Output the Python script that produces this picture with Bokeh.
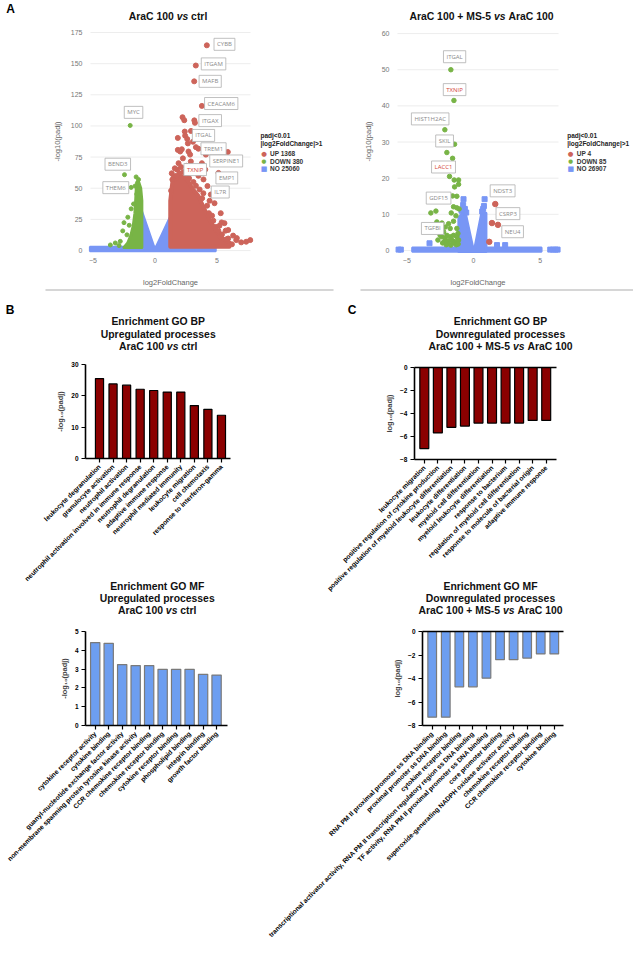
import math
from bokeh.plotting import figure
from bokeh.models import Label, Range1d, FixedTicker
from bokeh.layouts import column, row
from bokeh.embed import file_html
from bokeh.resources import INLINE

# ---------------------------------------------------------------- data
# Volcano 1: AraC 100 vs ctrl  (x = log2FoldChange, y = -log10(padj))
VL_UP_X = [4.18, 3.29, 3.16, 3.78, 3.17, 3.22, 2.22, 2.36, 2.43, 1.84, 2.6, 2.65, 3.06, 3.5, 5.87,
           1.84, 2.03, 2.16, 2.7, 2.83, 2.25, 4.1, 2.89, 1.9, 3.78, 1.79, 2.7, 3.24, 4.05, 5.12,
           1.52, 3.91, 4.23, 3.5, 4.5, 4.8, 5.3, 5.37, 5.7, 5.6, 5.9, 6.3, 6.6, 5.26, 5.9, 6.55,
           6.95, 7.35, 7.68, 6.2, 5.2, 4.6, 2.0, 1.4, 1.3, 2.4, 2.9, 3.3, 2.55, 4.4, 3.9,
           1.35, 1.6, 1.75, 2.1, 2.3, 2.5, 2.75, 3.1, 3.3, 3.6, 3.8, 4.2, 4.35, 4.7, 4.9, 5.1, 5.4, 5.75]
VL_UP_Y = [164.7, 148.5, 135.8, 116.1, 104.5, 102.5, 107.0, 104.6, 92.2, 90.4, 89.5, 86.0, 87.3, 81.7, 79.1,
           80.8, 79.5, 81.3, 79.5, 77.0, 74.0, 77.0, 71.5, 70.1, 70.1, 64.9, 64.9, 63.6, 65.0, 62.3,
           59.6, 57.1, 51.8, 60.0, 45.0, 38.0, 30.0, 22.6, 16.0, 22.0, 16.5, 12.0, 10.0, 11.0, 9.7, 8.4,
           6.6, 7.1, 8.4, 5.0, 20.0, 28.0, 62.0, 57.0, 48.0, 95.5, 96.0, 83.0, 68.0, 40.0, 46.0,
           62.0, 66.0, 60.0, 67.0, 63.0, 61.0, 58.0, 55.0, 52.0, 49.0, 42.0, 36.0, 30.0, 24.0, 19.0, 16.0, 13.0, 9.0]
VL_UP_AREA_X = [1.23, 1.23, 1.4, 2.0, 2.6, 3.0, 3.5, 4.0, 4.5, 5.0, 5.5, 6.0, 6.0]
VL_UP_AREA_Y = [3.0, 40.0, 55.0, 60.0, 57.0, 50.0, 44.0, 33.0, 23.0, 15.0, 9.5, 6.5, 3.0]
VL_DN_X = [-2.0, -2.46, -1.92, -1.52, -1.33, -1.41, -1.6, -1.28, -1.47, -1.73, -1.92, -2.5, -2.6,
           -2.26, -2.8, -3.2, -2.08, -2.19, -3.6, -2.9]
VL_DN_Y = [100.4, 60.9, 50.7, 59.1, 57.0, 54.4, 51.8, 49.2, 45.3, 37.4, 33.5, 22.4, 15.8,
           12.6, 7.4, 6.1, 20.3, 26.8, 4.5, 4.0]
VL_DN_AREA_X = [-2.5, -2.2, -1.95, -1.75, -1.62, -1.55, -1.5, -1.35, -1.15, -1.06, -1.06]
VL_DN_AREA_Y = [2.5, 6.0, 12.0, 20.0, 30.0, 42.0, 52.0, 56.0, 50.0, 40.0, 2.5]
VL_NO_AREA_X = [-1.1, -1.1, -0.05, 0.05, 1.25, 1.25]
VL_NO_AREA_Y = [0.0, 32.0, 1.5, 1.5, 27.0, 0.0]
VL_NO_BAND_X = [-5.25, -5.25, 4.9, 4.9]
VL_NO_BAND_Y = [-0.6, 3.0, 3.0, -0.6]
VL_COUNTS = [1368, 380, 25060]
VL_GENES = ["CYBB", "ITGAM", "MAFB", "CEACAM6", "ITGAX", "ITGAL", "TREM1", "SERPINE1", "TXNIP",
            "EMP1", "IL7R", "MYC", "BEND3", "THEM6"]
VL_GENE_X = [5.6, 4.72, 4.45, 5.34, 4.45, 3.91, 4.72, 5.74, 3.24, 5.79, 5.26, -1.73, -3.0, -3.16]
VL_GENE_Y = [165.5, 149.8, 135.8, 118.0, 104.3, 92.4, 81.7, 71.9, 65.0, 58.3, 47.0, 110.9, 69.3, 50.5]

# Volcano 2: AraC 100 + MS-5 vs AraC 100
VR_UP_X = [1.63, 1.38, 1.83, 1.18]
VR_UP_Y = [12.85, 7.6, 7.1, 2.4]
VR_DN_X = [-1.70, -1.47, -2.15, -1.42, -2.0, -1.57, -1.8, -1.45, -1.12, -1.42, -1.12, -1.57, -1.25,
           -3.2, -2.82, -1.5, -1.25, -1.08, -1.67, -2.75, -2.37, -1.87, -1.5, -1.32, -2.12, -2.62,
           -1.75, -1.25, -2.67, -2.37, -2.12, -2.0, -1.75, -1.5, -1.25, -2.17, -1.87, -1.62, -1.37,
           -1.12, -1.17, -2.25, -2.5, -1.5, -1.92, -2.32, -1.3, -1.7, -2.05, -1.15]
VR_DN_Y = [50.0, 41.5, 33.4, 29.4, 27.1, 25.5, 20.5, 19.5, 19.5, 17.6, 18.3, 15.1, 15.0,
           10.4, 10.9, 12.1, 11.8, 11.5, 10.4, 7.9, 7.6, 7.4, 8.1, 9.6, 6.5, 5.6,
           6.1, 6.1, 2.9, 3.8, 3.3, 4.2, 3.8, 4.2, 3.8, 2.5, 2.6, 2.9, 2.5,
           2.9, 4.7, 5.2, 4.2, 2.1, 1.8, 2.1, 1.6, 1.5, 1.6, 1.8]
VR_NO_X = [-5.62, -5.45, 5.75, 5.95, 6.15, 6.3, -3.3, 1.76, 2.37, -0.75, 0.83, -0.78, -0.65,
           0.72, 0.78, -0.9, 0.65, -0.55]
VR_NO_Y = [0.25, 0.25, 0.25, 0.25, 0.25, 0.25, 2.0, 1.5, 1.5, 14.2, 14.2, 12.6, 11.5,
           11.5, 12.3, 11.0, 10.8, 10.5]
VR_NO_AREA_X = [-1.1, -1.1, -0.85, -0.6, -0.05, 0.1, 0.6, 0.93, 0.93]
VR_NO_AREA_Y = [-0.3, 9.0, 10.3, 10.0, 0.6, 0.6, 10.0, 10.3, -0.3]
VR_NO_BAND_X = [-4.6, -4.6, 5.1, 5.1]
VR_NO_BAND_Y = [-0.35, 0.85, 0.85, -0.35]
VR_COUNTS = [4, 85, 26907]
VR_GENES = ["ITGAL", "TXNIP", "HIST1H2AC", "SKIL", "LACC1", "GDF15", "TGFBI", "NDST3", "CSRP3", "NEU4"]
VR_GENE_X = [-1.42, -1.42, -3.25, -2.17, -2.25, -2.62, -3.07, 2.18, 2.58, 2.93]
VR_GENE_Y = [53.6, 44.5, 36.4, 30.3, 23.1, 14.5, 6.1, 16.5, 10.2, 5.2]
HIGHLIGHT_GENES = ["TXNIP", "LACC1"]
CLASSES = ["UP", "DOWN", "NO"]

# Enrichment bars
BP_UP_TERMS = ["leukocyte degranulation", "granulocyte activation", "neutrophil activation",
               "neutrophil activation involved in immune response", "neutrophil degranulation",
               "adaptive immune response", "neutrophil mediated immunity", "leukocyte migration",
               "cell chemotaxis", "response to interferon-gamma"]
BP_UP_VALUES = [25.5, 23.8, 23.4, 22.1, 21.7, 21.2, 21.2, 16.9, 15.7, 13.8]
MF_UP_TERMS = ["cytokine receptor activity", "cytokine binding", "guanyl-nucleotide exchange factor activity",
               "non-membrane spanning protein tyrosine kinase activity", "CCR chemokine receptor binding",
               "chemokine receptor binding", "cytokine receptor binding", "phospholipid binding",
               "integrin binding", "growth factor binding"]
MF_UP_VALUES = [4.41, 4.37, 3.24, 3.19, 3.19, 2.99, 2.99, 2.99, 2.72, 2.68]
BP_DN_TERMS = ["leukocyte migration", "positive regulation of cytokine production",
               "positive regulation of myeloid leukocyte differentiation", "leukocyte differentiation",
               "myeloid cell differentiation", "myeloid leukocyte differentiation", "response to bacterium",
               "regulation of myeloid cell differentiation", "response to molecule of bacterial origin",
               "adaptive immune response"]
BP_DN_VALUES = [-7.05, -5.69, -5.2, -5.09, -4.83, -4.83, -4.83, -4.83, -4.6, -4.6]
MF_DN_TERMS = ["RNA PM II proximal promoter ss DNA binding", "proximal promoter ss DNA binding",
               "cytokine receptor binding",
               "transcriptional activator activity, RNA PM II transcription regulatory region ss DNA binding",
               "TF activity, RNA PM II proximal promoter ss DNA binding", "core promoter binding",
               "superoxide-generating NADPH oxidase activator activity", "chemokine receptor binding",
               "CCR chemokine receptor binding", "cytokine binding"]
MF_DN_VALUES = [-7.29, -7.29, -4.71, -4.71, -3.97, -2.4, -2.4, -2.26, -1.91, -1.91]

# ---------------------------------------------------------------- style / geometry
SANS = "Liberation Sans"
RED, GREEN, BLUE = "#cd645a", "#78b446", "#7896f5"
DARKRED, LIGHTBLUE = "#8b0000", "#6d9ef0"
TS = 10.4
LEG = 6.5
AB = {' ': 278, 'A': 722, 'r': 389, 'a': 556, 'C': 722, '0': 556, '1': 556, '5': 556, '+': 584,
      'M': 833, 'S': 667, '-': 333, 'v': 556, 's': 556, 'c': 556, 't': 333, 'l': 278}

# canvas size W,H; plot area fx0..fx1 / fy0..fy1 (canvas px); plot-area data ranges xr / yr
G_VL = dict(W=338, H=293, fx0=90, fx1=250, fy0=28, fy1=254, xr=(-5.2, 7.7), yr=(-3.15, 178.2))
G_VR = dict(W=295, H=293, fx0=59, fx1=220, fy0=28, fy1=254, xr=(-5.7, 6.37), yr=(-1.1, 61.4))
G_BU = dict(W=320, H=330, fx0=85, fx1=230, fy0=71, fy1=165, xr=(-0.033, 10.668), yr=(0, 30))
G_BD = dict(W=313, H=330, fx0=94, fx1=236, fy0=74, fy1=166, xr=(0.276, 10.76), yr=(-8, 0))
G_MU = dict(W=248, H=320, fx0=85, fx1=227, fy0=8, fy1=102, xr=(0.28, 10.81), yr=(0, 5))
G_MD = dict(W=385, H=320, fx0=174, fx1=315, fy0=8, fy1=102, xr=(0.285, 10.68), yr=(-8, 0))


def at(G, px, py):
    x0, x1 = G['xr']
    y0, y1 = G['yr']
    x = x0 + (px - G['fx0']) / (G['fx1'] - G['fx0']) * (x1 - x0)
    y = y1 - (py - G['fy0']) / (G['fy1'] - G['fy0']) * (y1 - y0)
    return x, y


def make_fig(G):
    W, H = G['W'], G['H']
    xs, ye = at(G, 0, 0)
    xe, ys = at(G, W, H)
    p = figure(width=W, height=H, min_border=0, x_range=Range1d(xs, xe), y_range=Range1d(ys, ye),
               toolbar_location=None, output_backend="svg", title=None)
    p.outline_line_color = None
    p.background_fill_color = "white"
    p.border_fill_color = "white"
    p.grid.visible = False
    p.xaxis.fixed_location = G['yr'][0]
    p.yaxis.fixed_location = G['xr'][0]
    p.xaxis.bounds = G['xr']
    p.yaxis.bounds = G['yr']
    return p


def text_px(p, G, px, py, text, size, color="#000000", style="normal", align="left", font=SANS):
    x, y = at(G, px, py)
    p.add_layout(Label(x=x, y=y, text=text, text_font=font, text_font_size=f"{size}px",
                       text_color=color, text_font_style=style, text_align=align,
                       text_baseline="middle"))


def title_lines(p, G, cx, ys, lines, size=TS):
    for py, parts in zip(ys, lines):
        if len(parts) == 1:
            text_px(p, G, cx, py, parts[0][0], size, "#111111", "bold", "center")
            continue
        sp = AB[' '] * size / 1000
        widths = [sum(AB.get(ch, 556) for ch in t) * size / 1000 for t, _ in parts]
        total = sum(widths) + sp * (len(parts) - 1)
        x = cx - total / 2
        for (t, it), w in zip(parts, widths):
            text_px(p, G, x, py, t, size, "#111111", "bold italic" if it else "bold")
            x += w + sp


def volcano(G, up, up_area, dn, dn_area, no, no_area, no_band, yticks, genes, counts,
            title_parts, title_cx, leg_x, up_size, dn_size, sep_px):
    p = make_fig(G)
    # horizontal grid lines across the plot area
    n = len(yticks)
    p.segment(x0=[G['xr'][0]] * n, x1=[G['xr'][1]] * n, y0=yticks, y1=yticks,
              line_color="#ebebeb", line_width=0.9)
    p.xaxis.ticker = FixedTicker(ticks=[-5, 0, 5], minor_ticks=[])
    p.yaxis.ticker = FixedTicker(ticks=yticks, minor_ticks=[])
    for ax in (p.xaxis[0], p.yaxis[0]):
        ax.axis_line_color = None
        ax.major_tick_line_color = None
        ax.minor_tick_line_color = None
        ax.major_tick_out = 0
        ax.major_tick_in = 0
        ax.major_label_text_color = "#777777"
        ax.major_label_text_font = SANS
        ax.major_label_text_font_size = "7px"
        ax.axis_label_text_font = SANS
        ax.axis_label_text_font_size = "7.5px"
        ax.axis_label_text_color = "#666666"
        ax.axis_label_text_font_style = "normal"
    p.xaxis.axis_label = "log2FoldChange"
    p.yaxis.axis_label = "-log10(padj)"
    p.xaxis.major_label_standoff = 3
    p.xaxis.axis_label_standoff = 12
    p.yaxis.major_label_standoff = 8
    p.yaxis.axis_label_standoff = 6

    p.patch(no_band[0], no_band[1], fill_color=BLUE, line_color=BLUE, line_width=2)
    p.patch(no_area[0], no_area[1], fill_color=BLUE, line_color=BLUE, line_width=3, line_join="round")
    if dn_area is not None:
        p.patch(dn_area[0], dn_area[1], fill_color=GREEN, line_color=GREEN, line_width=3, line_join="round")
    if up_area is not None:
        p.patch(up_area[0], up_area[1], fill_color=RED, line_color=RED, line_width=4, line_join="round")
    if no is not None:
        p.scatter(no[0], no[1], marker="square", size=5, color=BLUE)
    p.scatter(dn[0], dn[1], marker="circle", size=dn_size, color=GREEN)
    p.scatter(up[0], up[1], marker="circle", size=up_size, color=RED)

    for g, gx, gy in zip(*genes):
        col = "#d4483b" if g in HIGHLIGHT_GENES else "#8a8a8a"
        p.add_layout(Label(x=gx, y=gy, text=g, text_font="Open Sans", text_font_size="6px",
                           text_color=col, text_align="center", text_baseline="middle",
                           background_fill_color="white", border_line_color="#b0b0b0",
                           border_line_width=0.8, padding=(3, 2)))

    title_lines(p, G, title_cx, [16], [title_parts])

    # legend
    text_px(p, G, leg_x, 135, "padj<0.01", LEG, "#222222", "bold")
    text_px(p, G, leg_x, 142.5, "|log2FoldChange|>1", LEG, "#222222", "bold")
    syms = [("\u25cf", RED, 6.5), ("\u25cf", GREEN, 5.5), ("\u25a0", BLUE, 7)]
    for i, (cls, cnt) in enumerate(zip(CLASSES, counts)):
        yy = 153 + i * 7.6
        s, c, sz = syms[i]
        text_px(p, G, leg_x + 3.5, yy, s, sz, c, "normal", "center", "DejaVu Sans")
        text_px(p, G, leg_x + 9.5, yy, f"{cls} {cnt}", LEG, "#333333", "bold")

    # separator line under the panel
    (sx0, sy), (sx1, _) = at(G, sep_px[0], 289.5), at(G, sep_px[1], 289.5)
    p.segment(x0=[sx0], x1=[sx1], y0=[sy], y1=[sy], line_color="#c8c8c8", line_width=1.3)
    return p


def bar_chart(G, terms, values, yticks, ylabel, fill, line, width, negative):
    p = make_fig(G)
    xs = list(range(1, len(terms) + 1))
    p.vbar(x=xs, top=[0] * len(values) if negative else values,
           bottom=values if negative else [0] * len(values),
           width=width, fill_color=fill, line_color=line, line_width=1.2)
    if negative:  # zero line at the top of the plot area
        p.segment(x0=[G['xr'][0]], x1=[G['xr'][1]], y0=[G['yr'][1]], y1=[G['yr'][1]],
                  line_color="#000000", line_width=1.6)
    xa, ya = p.xaxis[0], p.yaxis[0]
    xa.ticker = FixedTicker(ticks=xs, minor_ticks=[])
    xa.major_label_overrides = {i: t for i, t in zip(xs, terms)}
    xa.major_label_orientation = math.pi / 4
    ya.ticker = FixedTicker(ticks=yticks, minor_ticks=[])
    for ax in (xa, ya):
        ax.axis_line_width = 1.6
        ax.axis_line_color = "#000000"
        ax.major_tick_line_width = 1.2
        ax.major_tick_line_color = "#000000"
        ax.major_tick_out = 4
        ax.major_tick_in = 0
        ax.minor_tick_line_color = None
        ax.major_label_text_font = SANS
        ax.major_label_text_font_style = "bold"
        ax.major_label_text_color = "#000000"
        ax.major_label_standoff = 3
    xa.major_label_text_font_size = "6.7px"
    ya.major_label_text_font_size = "6.5px"
    ya.axis_label = ylabel
    ya.axis_label_text_font = SANS
    ya.axis_label_text_font_size = "7.5px"
    ya.axis_label_text_font_style = "bold"
    ya.axis_label_standoff = 3
    return p


# ---------------------------------------------------------------- volcanoes
vl = volcano(G_VL, (VL_UP_X, VL_UP_Y), (VL_UP_AREA_X, VL_UP_AREA_Y), (VL_DN_X, VL_DN_Y),
             (VL_DN_AREA_X, VL_DN_AREA_Y), None, (VL_NO_AREA_X, VL_NO_AREA_Y),
             (VL_NO_BAND_X, VL_NO_BAND_Y), list(range(0, 176, 25)),
             (VL_GENES, VL_GENE_X, VL_GENE_Y), VL_COUNTS,
             [("AraC 100", False), ("vs", True), ("ctrl", False)], 167.5, 260, 5, 4, (45, 333))
text_px(vl, G_VL, 10, 8, "A", 12, "#000000", "bold", "center")

vr = volcano(G_VR, (VR_UP_X, VR_UP_Y), None, (VR_DN_X, VR_DN_Y), None, (VR_NO_X, VR_NO_Y),
             (VR_NO_AREA_X, VR_NO_AREA_Y), (VR_NO_BAND_X, VR_NO_BAND_Y), list(range(0, 61, 10)),
             (VR_GENES, VR_GENE_X, VR_GENE_Y), VR_COUNTS,
             [("AraC 100 + MS-5", False), ("vs", True), ("AraC 100", False)], 143, 228.7, 5.5, 4.5,
             (22, 295))

# ---------------------------------------------------------------- bars
bu = bar_chart(G_BU, BP_UP_TERMS, BP_UP_VALUES, [0, 10, 20, 30], "-log\u2081\u2080(padj)",
               DARKRED, "#000000", 0.6, False)
bd = bar_chart(G_BD, BP_DN_TERMS, BP_DN_VALUES, [-8, -6, -4, -2, 0], "log\u2081\u2080(padj)",
               DARKRED, "#000000", 0.66, True)
mu = bar_chart(G_MU, MF_UP_TERMS, MF_UP_VALUES, [0, 1, 2, 3, 4, 5], "-log\u2081\u2080(padj)",
               LIGHTBLUE, "#7a7a7a", 0.69, False)
md = bar_chart(G_MD, MF_DN_TERMS, MF_DN_VALUES, [-8, -6, -4, -2, 0], "log\u2081\u2080(padj)",
               LIGHTBLUE, "#7a7a7a", 0.64, True)

up_line = [("AraC 100", False), ("vs", True), ("ctrl", False)]
dn_line = [("AraC 100 + MS-5", False), ("vs", True), ("AraC 100", False)]
title_lines(bu, G_BU, 157.7, [28, 40.5, 53],
            [[("Enrichment GO BP", False)], [("Upregulated processes", False)], up_line])
title_lines(bd, G_BD, 180, [28, 40.5, 53],
            [[("Enrichment GO BP", False)], [("Downregulated processes", False)], dn_line])
title_lines(bu, G_BU, 156.7, [293, 305, 317],
            [[("Enrichment GO MF", False)], [("Upregulated processes", False)], up_line])
title_lines(bd, G_BD, 170, [293, 305, 317],
            [[("Enrichment GO MF", False)], [("Downregulated processes", False)], dn_line])
text_px(bu, G_BU, 9.5, 16, "B", 12, "#000000", "bold", "center")
text_px(bd, G_BD, 31.5, 16, "C", 12, "#000000", "bold", "center")

layout = column(row(vl, vr), row(bu, bd), row(mu, md))
open("out.html", "w").write(file_html(layout, INLINE))
